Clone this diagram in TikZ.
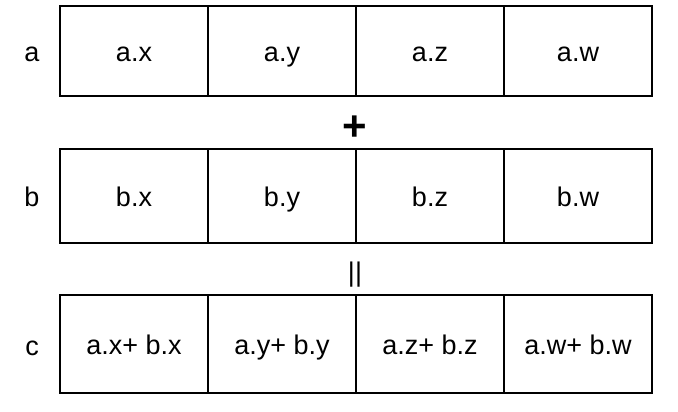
\documentclass[tikz,border=0pt]{standalone}
\usepackage{fontspec}
\setmainfont{Liberation Sans}

\begin{document}
\begin{tikzpicture}[x=1pt,y=1pt,font=\fontsize{27}{31}\selectfont]
\tikzset{
  cell/.style={draw,line width=1.1pt,minimum width=148pt,inner sep=0pt,
    text height=22pt,text depth=0pt},
  rowlabel/.style={inner sep=0pt,text height=22pt,text depth=0pt},
}
\path[use as bounding box] (0,0) rectangle (678,412);
% row a
\node[rowlabel] (la) at (32,361) {a};
\foreach \c [count=\i] in {x,y,z,w} {
  \node[cell,minimum height=90pt] (a\i) at (134+148*\i-148,361) {a.\c};
}
\node[font=\fontsize{42}{46}\selectfont\bfseries] (plus) at (355,284) {+};
% row b
\node[rowlabel] (lb) at (32,216) {b};
\foreach \c [count=\i] in {x,y,z,w} {
  \node[cell,minimum height=94pt] (b\i) at (134+148*\i-148,216) {b.\c};
}
\node[font=\fontsize{27}{31}\selectfont] (eq) at (355,137) {||};
% row c
\node[rowlabel] (lc) at (32,67) {c};
\foreach \c [count=\i] in {x,y,z,w} {
  \node[cell,minimum height=98pt] (c\i) at (134+148*\i-148,68) {a.\c+ b.\c};
}
\end{tikzpicture}
\end{document}
